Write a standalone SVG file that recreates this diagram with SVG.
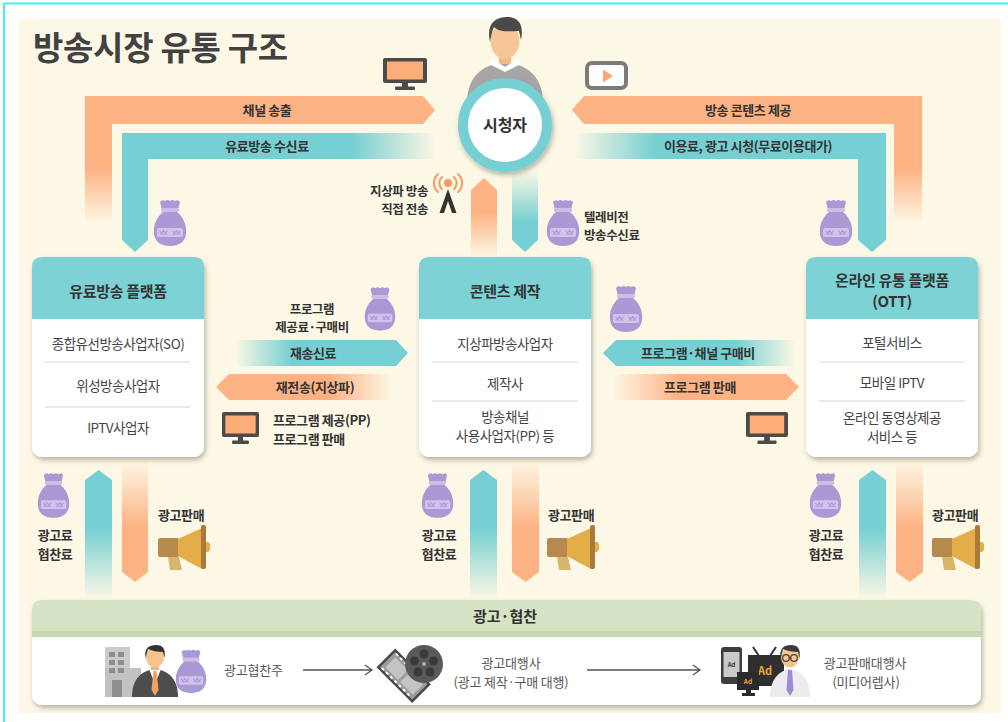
<svg xmlns="http://www.w3.org/2000/svg" xmlns:xlink="http://www.w3.org/1999/xlink" width="1008" height="722" viewBox="0 0 1008 722">
  <style>
    text { font-family: "Noto Sans CJK KR", "Noto Sans CJK JP", "Noto Sans", sans-serif; fill: #333; }
    .lbl { font-size: 13px; font-weight: 700; letter-spacing: -0.4px; }
    .sm { font-size: 12.5px; }
    .mid { text-anchor: middle; }
    .end { text-anchor: end; }
    .head { font-size: 15px; font-weight: 700; text-anchor: middle; letter-spacing: -0.3px; }
    .item { font-size: 13.5px; font-weight: 400; text-anchor: middle; fill: #444; letter-spacing: -0.5px; }
    .row { font-size: 13px; font-weight: 400; fill: #555; letter-spacing: -0.2px; }
    .sep { stroke: #d6d6d6; stroke-width: 1.2; }
    .card { fill: #ffffff; }
    .cardhead { fill: #7cd2d4; }
    .flow { stroke: #555; stroke-width: 1.3; fill: none; }
  </style>
  <defs>
    <filter id="shadow" x="-10%" y="-10%" width="125%" height="130%">
      <feDropShadow dx="1.5" dy="3" stdDeviation="2.5" flood-color="#000" flood-opacity="0.28"/>
    </filter>
    <!-- fading arrow fills -->
    <linearGradient id="gOL" gradientUnits="userSpaceOnUse" x1="0" y1="168" x2="0" y2="224">
      <stop offset="0" stop-color="#fdb283"/><stop offset="1" stop-color="#fdb283" stop-opacity="0"/>
    </linearGradient>
    <linearGradient id="gTL" gradientUnits="userSpaceOnUse" x1="352" y1="0" x2="436" y2="0">
      <stop offset="0" stop-color="#76cfd2"/><stop offset="1" stop-color="#76cfd2" stop-opacity="0"/>
    </linearGradient>
    <linearGradient id="gTR" gradientUnits="userSpaceOnUse" x1="655" y1="0" x2="574" y2="0">
      <stop offset="0" stop-color="#76cfd2"/><stop offset="1" stop-color="#76cfd2" stop-opacity="0"/>
    </linearGradient>
    <linearGradient id="gOC" gradientUnits="userSpaceOnUse" x1="0" y1="212" x2="0" y2="258">
      <stop offset="0" stop-color="#fdb283"/><stop offset="1" stop-color="#fdb283" stop-opacity="0"/>
    </linearGradient>
    <linearGradient id="gTC" gradientUnits="userSpaceOnUse" x1="0" y1="222" x2="0" y2="170">
      <stop offset="0" stop-color="#76cfd2"/><stop offset="1" stop-color="#76cfd2" stop-opacity="0"/>
    </linearGradient>
    <linearGradient id="gTM1" gradientUnits="userSpaceOnUse" x1="292" y1="0" x2="235" y2="0">
      <stop offset="0" stop-color="#76cfd2"/><stop offset="1" stop-color="#76cfd2" stop-opacity="0"/>
    </linearGradient>
    <linearGradient id="gOM1" gradientUnits="userSpaceOnUse" x1="330" y1="0" x2="393" y2="0">
      <stop offset="0" stop-color="#fdb283"/><stop offset="1" stop-color="#fdb283" stop-opacity="0"/>
    </linearGradient>
    <linearGradient id="gTM2" gradientUnits="userSpaceOnUse" x1="735" y1="0" x2="796" y2="0">
      <stop offset="0" stop-color="#76cfd2"/><stop offset="1" stop-color="#76cfd2" stop-opacity="0"/>
    </linearGradient>
    <linearGradient id="gOM2" gradientUnits="userSpaceOnUse" x1="680" y1="0" x2="612" y2="0">
      <stop offset="0" stop-color="#fdb283"/><stop offset="1" stop-color="#fdb283" stop-opacity="0"/>
    </linearGradient>
    <linearGradient id="gTB" gradientUnits="userSpaceOnUse" x1="0" y1="528" x2="0" y2="600">
      <stop offset="0" stop-color="#76cfd2"/><stop offset="1" stop-color="#76cfd2" stop-opacity="0"/>
    </linearGradient>
    <linearGradient id="gOB" gradientUnits="userSpaceOnUse" x1="0" y1="528" x2="0" y2="460">
      <stop offset="0" stop-color="#fdb283"/><stop offset="1" stop-color="#fdb283" stop-opacity="0"/>
    </linearGradient>

    <!-- money bag -->
    <symbol id="bag" viewBox="0 0 34 48">
      <path d="M7,3 Q9,0 12,2 Q14.5,0 17,2 Q19.5,0 22,2 Q25,0 27,3 L25,11 H9 Z" fill="#ab99d6"/>
      <rect x="8" y="9" width="18" height="4" rx="1.5" fill="#cbbfea"/>
      <path d="M10,13 H24 C31,19 34,27 33,35 C32,43 26,47 17,47 C8,47 2,43 1,35 C0,27 3,19 10,13 Z" fill="#ab99d6"/>
      <rect x="4" y="29" width="26" height="9" rx="2" fill="#cfc4ee"/>
      <path d="M6.5,31.5 l2,2.5 l2,-2.5 l2,2.5 l2,-2.5 M19.5,31.5 l2,2.5 l2,-2.5 l2,2.5 l2,-2.5 M6.5,35 h8 M19.5,35 h8" stroke="#ab99d6" stroke-width="1.1" fill="none"/>
    </symbol>
    <!-- television -->
    <symbol id="tv" viewBox="0 0 44 32" preserveAspectRatio="none">
      <rect x="0" y="0" width="44" height="25" rx="2" fill="#4b4b4b"/>
      <rect x="4" y="3.5" width="36" height="18" fill="#fdae78"/>
      <rect x="19" y="25" width="6" height="4" fill="#4b4b4b"/>
      <rect x="12" y="28.5" width="20" height="3.5" rx="1" fill="#4b4b4b"/>
    </symbol>
    <!-- megaphone -->
    <symbol id="horn" viewBox="0 0 52 48">
      <path d="M10,32 H21 L24,45 H12 Z" fill="#d9b46a"/>
      <rect x="0" y="13" width="21" height="19" rx="2" fill="#b8894d"/>
      <path d="M20,14 L44,3 L44,44 L20,31 Z" fill="#e3ae47"/>
      <rect x="43" y="0" width="5" height="44" rx="2" fill="#a97a3c"/>
      <path d="M48,17 h1.5 a3,5 0 0 1 0,10 h-1.5 Z" fill="#e3ae47"/>
    </symbol>
  </defs>

  <!-- page frame and backdrop -->
  <rect x="0" y="0" width="1008" height="722" fill="#ffffff"/>
  <path d="M4,722 V3.5 H1008" fill="none" stroke="#45f0f0" stroke-width="2"/>
  <rect x="19" y="19" width="982" height="694" fill="#fdf8e6"/>

  <text x="33" y="60" style="font-size:33px;font-weight:700;fill:#424242;letter-spacing:-0.3px">방송시장 유통 구조</text>

  <!-- flows between the market players -->
  <g id="connectors">
    <!-- top: platforms to viewer -->
    <path d="M85,96 H423 L435,110 L423,124 H112 V226 H85 Z" fill="url(#gOL)"/>
    <path d="M122,133 H436 V159 H148 V240 L135,252 L122,240 Z" fill="url(#gTL)"/>
    <path d="M922,96 H584 L572,110 L584,124 H894 V226 H922 Z" fill="url(#gOL)"/>
    <path d="M574,133 H886 V240 L872,252 L858,240 V159 H574 Z" fill="url(#gTR)"/>
    <path d="M471,258 V190 L484,178 L497,190 V258 Z" fill="url(#gOC)"/>
    <path d="M512,170 V240 L525,252 L538,240 V170 Z" fill="url(#gTC)"/>

    <text class="lbl mid" x="267" y="115">채널 송출</text>
    <text class="lbl mid" x="267" y="151">유료방송 수신료</text>
    <text class="lbl mid" x="748" y="115">방송 콘텐츠 제공</text>
    <text class="lbl mid" x="748" y="151">이용료, 광고 시청(무료이용대가)</text>

    <!-- terrestrial broadcast -->
    <g fill="none" stroke="#f79a5e" stroke-width="2" stroke-linecap="round">
      <path d="M442,177 a8,8 0 0 0 0,12"/>
      <path d="M438,174 a12,12 0 0 0 0,18"/>
      <path d="M454,177 a8,8 0 0 1 0,12"/>
      <path d="M458,174 a12,12 0 0 1 0,18"/>
    </g>
    <circle cx="448" cy="183" r="4" fill="#f79a5e"/>
    <path d="M448,189 L456.5,213 H452 L448,201 L444,213 H439.5 Z" fill="#333"/>
    <text class="lbl sm end" x="428" y="196">지상파 방송</text>
    <text class="lbl sm end" x="428" y="214">직접 전송</text>

    <use href="#bag" x="153" y="199" width="34" height="48"/>
    <use href="#bag" x="546" y="199" width="34" height="48"/>
    <use href="#bag" x="819" y="199" width="34" height="48"/>
    <text class="lbl sm" x="584" y="222">텔레비전</text>
    <text class="lbl sm" x="584" y="240">방송수신료</text>

    <use href="#tv" x="383" y="58" width="44" height="32"/>
    <rect x="587" y="63" width="39" height="25" rx="5" fill="#fff" stroke="#7b7b7b" stroke-width="4"/>
    <path d="M603,69.5 L613,76 L603,82.5 Z" fill="#fda56c"/>

    <!-- middle: between platforms and content producers -->
    <path d="M235,340 H396 L408,353 L396,366 H235 Z" fill="url(#gTM1)"/>
    <path d="M393,374 H229 L216,387 L229,400 H393 Z" fill="url(#gOM1)"/>
    <text class="lbl mid" x="313" y="358">재송신료</text>
    <text class="lbl mid" x="315" y="392">재전송(지상파)</text>
    <use href="#bag" x="364" y="286" width="32" height="46"/>
    <text class="lbl sm mid" x="312" y="314">프로그램</text>
    <text class="lbl sm mid" x="312" y="332">제공료·구매비</text>
    <use href="#tv" x="222" y="412" width="37" height="32"/>
    <text class="lbl" x="273" y="425">프로그램 제공(PP)</text>
    <text class="lbl" x="273" y="444">프로그램 판매</text>

    <path d="M796,340 H616 L603,353 L616,366 H796 Z" fill="url(#gTM2)"/>
    <path d="M612,374 H786 L799,387 L786,400 H612 Z" fill="url(#gOM2)"/>
    <text class="lbl mid" x="698" y="358">프로그램·채널 구매비</text>
    <text class="lbl mid" x="700" y="392">프로그램 판매</text>
    <use href="#bag" x="609" y="285" width="34" height="48"/>
    <use href="#tv" x="746" y="412" width="42" height="32"/>

    <!-- bottom: advertising revenue and sales -->
    <path d="M85,600 V480 L98.5,470 L112,480 V600 Z" fill="url(#gTB)"/>
    <path d="M122,460 V572 L135,582 L148,572 V460 Z" fill="url(#gOB)"/>
    <path d="M470,600 V480 L483.5,470 L497,480 V600 Z" fill="url(#gTB)"/>
    <path d="M512,460 V572 L525.5,582 L539,572 V460 Z" fill="url(#gOB)"/>
    <path d="M859,600 V480 L872.5,470 L886,480 V600 Z" fill="url(#gTB)"/>
    <path d="M896,460 V572 L909.5,582 L923,572 V460 Z" fill="url(#gOB)"/>

    <use href="#bag" x="37" y="472" width="33" height="47"/>
    <use href="#bag" x="421" y="472" width="33" height="47"/>
    <use href="#bag" x="809" y="472" width="33" height="47"/>
    <text class="lbl mid" x="55" y="540">광고료</text>
    <text class="lbl mid" x="55" y="559">협찬료</text>
    <text class="lbl mid" x="439" y="540">광고료</text>
    <text class="lbl mid" x="439" y="559">협찬료</text>
    <text class="lbl mid" x="826" y="540">광고료</text>
    <text class="lbl mid" x="826" y="559">협찬료</text>

    <text class="lbl" x="158" y="520">광고판매</text>
    <text class="lbl" x="548" y="520">광고판매</text>
    <text class="lbl" x="932" y="520">광고판매</text>
    <use href="#horn" x="158" y="525" width="52" height="48"/>
    <use href="#horn" x="547" y="525" width="52" height="48"/>
    <use href="#horn" x="932" y="525" width="52" height="48"/>
  </g>

  <!-- viewer -->
  <g id="viewer">
    <path d="M467,104 C467,78 480,65 505,62 C530,65 543,78 543,104 Z" fill="#a7a5a6"/>
    <rect x="499" y="52" width="12" height="12" fill="#f0b886"/>
    <path d="M493,59 L505,67 L517,59 L521,64 L505,72 L489,64 Z" fill="#ffffff"/>
    <ellipse cx="505" cy="41" rx="14.5" ry="18" fill="#f6c697"/>
    <path d="M490,42 C486,24 495,17 507,17 C519,17 524,25 521,40 L519,31 C512,31 500,33 494,27 C492,31 491,36 490,42 Z" fill="#4a4a4a"/>
    <g filter="url(#shadow)">
      <circle cx="505" cy="125" r="42" fill="#ffffff" stroke="#76cfd2" stroke-width="10"/>
    </g>
    <text x="505" y="131" style="font-size:16px;font-weight:700;text-anchor:middle">시청자</text>
  </g>

  <!-- paid broadcasting platforms -->
  <g id="paid-platform">
    <rect class="card" x="32" y="257" width="172" height="200" rx="10" filter="url(#shadow)"/>
    <path class="cardhead" d="M32,319 V267 Q32,257 42,257 H194 Q204,257 204,267 V319 Z"/>
    <text class="head" x="118" y="297">유료방송 플랫폼</text>
    <text class="item" x="118" y="349">종합유선방송사업자(SO)</text>
    <line class="sep" x1="45" y1="362" x2="190" y2="362"/>
    <text class="item" x="118" y="391">위성방송사업자</text>
    <line class="sep" x1="45" y1="407" x2="190" y2="407"/>
    <text class="item" x="118" y="433">IPTV사업자</text>
  </g>

  <!-- content production -->
  <g id="content-production">
    <rect class="card" x="419" y="257" width="172" height="200" rx="10" filter="url(#shadow)"/>
    <path class="cardhead" d="M419,319 V267 Q419,257 429,257 H581 Q591,257 591,267 V319 Z"/>
    <text class="head" x="505" y="297">콘텐츠 제작</text>
    <text class="item" x="505" y="349">지상파방송사업자</text>
    <line class="sep" x1="432" y1="362" x2="578" y2="362"/>
    <text class="item" x="505" y="389">제작사</text>
    <line class="sep" x1="432" y1="401" x2="578" y2="401"/>
    <text class="item" x="505" y="422">방송채널</text>
    <text class="item" x="505" y="441">사용사업자(PP) 등</text>
  </g>

  <!-- online distribution platforms -->
  <g id="ott-platform">
    <rect class="card" x="806" y="257" width="172" height="200" rx="10" filter="url(#shadow)"/>
    <path class="cardhead" d="M806,319 V267 Q806,257 816,257 H968 Q978,257 978,267 V319 Z"/>
    <text class="head" x="892" y="286">온라인 유통 플랫폼</text>
    <text class="head" x="892" y="307">(OTT)</text>
    <text class="item" x="892" y="348">포털서비스</text>
    <line class="sep" x1="819" y1="362" x2="965" y2="362"/>
    <text class="item" x="892" y="388">모바일 IPTV</text>
    <line class="sep" x1="819" y1="401" x2="965" y2="401"/>
    <text class="item" x="892" y="423">온라인 동영상제공</text>
    <text class="item" x="892" y="442">서비스 등</text>
  </g>

  <!-- advertising and sponsorship -->
  <g id="ad-sponsorship">
    <rect class="card" x="32" y="600" width="949" height="105" rx="10" filter="url(#shadow)"/>
    <path d="M32,637 V610 Q32,600 42,600 H971 Q981,600 981,610 V637 Z" fill="#d6e3c4"/>
    <rect x="32" y="631" width="949" height="6" fill="#c6d7b1"/>
    <text x="505" y="622" style="font-size:15px;font-weight:700;text-anchor:middle">광고·협찬</text>

    <!-- sponsor -->
    <g id="sponsor">
      <rect x="105" y="647" width="25" height="50" fill="#cbcbcb"/>
      <rect x="105" y="668" width="36" height="29" fill="#c2c2c2"/>
      <g fill="#8e8e8e">
        <rect x="109" y="652" width="6" height="5"/><rect x="118" y="652" width="6" height="5"/>
        <rect x="109" y="660" width="6" height="5"/><rect x="118" y="660" width="6" height="5"/>
        <rect x="109" y="668" width="6" height="5"/><rect x="118" y="668" width="6" height="5"/>
        <rect x="112" y="680" width="10" height="17"/>
      </g>
      <path d="M132,697 C132,680 140,671 155,669 C170,671 178,680 178,697 Z" fill="#4d4d4d"/>
      <path d="M149,669 L155,684 L161,669 Z" fill="#ffffff"/>
      <path d="M153.5,671 H156.5 L158.5,690 L155,696 L151.5,690 Z" fill="#f0a064"/>
      <rect x="151" y="663" width="8" height="7" fill="#eeb47f"/>
      <ellipse cx="155" cy="657" rx="9" ry="10.5" fill="#f6c48f"/>
      <path d="M145.5,658 C144,648 149,645 156,645 C163,645 166,649 164.5,658 L163,652 C158,652 152,651 148,649 Z" fill="#333"/>
      <use href="#bag" x="175" y="648" width="32" height="47"/>
    </g>
    <text class="row" x="224" y="675">광고협찬주</text>
    <path class="flow" d="M303,670 H372 M365,665 L372,670 L365,675"/>

    <!-- agency -->
    <g id="agency">
      <g transform="rotate(45 403 675)">
        <rect x="380" y="663" width="48" height="24" fill="#9c9c9c" stroke="#4a4a4a" stroke-width="2.5"/>
        <rect x="385" y="668" width="18" height="14" fill="#c4c4c4"/>
        <rect x="406" y="668" width="18" height="14" fill="#c4c4c4"/>
        <g fill="#ffffff">
          <rect x="383" y="664" width="3" height="2"/><rect x="389" y="664" width="3" height="2"/><rect x="395" y="664" width="3" height="2"/><rect x="401" y="664" width="3" height="2"/><rect x="407" y="664" width="3" height="2"/><rect x="413" y="664" width="3" height="2"/><rect x="419" y="664" width="3" height="2"/>
          <rect x="383" y="684" width="3" height="2"/><rect x="389" y="684" width="3" height="2"/><rect x="395" y="684" width="3" height="2"/><rect x="401" y="684" width="3" height="2"/><rect x="407" y="684" width="3" height="2"/><rect x="413" y="684" width="3" height="2"/><rect x="419" y="684" width="3" height="2"/>
        </g>
      </g>
      <circle cx="424" cy="664" r="19" fill="#595959"/>
      <g fill="#3a3a3a">
        <circle cx="424" cy="654" r="4.5"/><circle cx="433.5" cy="661" r="4.5"/><circle cx="430" cy="672" r="4.5"/>
        <circle cx="418" cy="672" r="4.5"/><circle cx="414.5" cy="661" r="4.5"/>
      </g>
      <circle cx="424" cy="664" r="2" fill="#aaa"/>
    </g>
    <text class="row" x="511" y="668" text-anchor="middle">광고대행사</text>
    <text class="row" x="511" y="687" text-anchor="middle">(광고 제작·구매 대행)</text>
    <path class="flow" d="M587,670 H700 M693,665 L700,670 L693,675"/>

    <!-- media rep -->
    <g id="media-rep">
      <rect x="721" y="647" width="21" height="37" rx="3" fill="#3d3d3d"/>
      <rect x="723.5" y="652" width="16" height="25" fill="#c9c9c9"/>
      <text x="731.5" y="667" style="font-size:6px;font-weight:700;text-anchor:middle;fill:#333">Ad</text>
      <path d="M759,656 L753,647 M770,656 L776,647" stroke="#2f2f2f" stroke-width="2"/>
      <rect x="748" y="655" width="36" height="31" fill="#2f2f2f"/>
      <text x="765" y="675" style="font-size:11px;font-weight:700;text-anchor:middle;fill:#e5aa2e">Ad</text>
      <rect x="737" y="672" width="22" height="18" fill="#2b2b2b"/>
      <rect x="746" y="690" width="5" height="4" fill="#2b2b2b"/>
      <rect x="742" y="693" width="13" height="3" fill="#2b2b2b"/>
      <text x="748" y="684" style="font-size:6.5px;font-weight:700;text-anchor:middle;fill:#e5aa2e">Ad</text>
      <path d="M770,697 C770,680 778,671 790,669 C802,671 810,680 810,697 Z" fill="#ecebf0"/>
      <path d="M788,670 H792 L793.5,690 L790,696 L786.5,690 Z" fill="#a08ad2"/>
      <ellipse cx="790" cy="657" rx="9" ry="10.5" fill="#f6c48f"/>
      <path d="M780.5,659 C779,648 784,645 791,645 C798,645 801,649 799.5,659 L798,652 C793,652 787,651 783,649 Z" fill="#3a3a3a"/>
      <g fill="none" stroke="#444" stroke-width="1.3">
        <circle cx="786" cy="658" r="3.3"/><circle cx="794" cy="658" r="3.3"/>
        <path d="M789.3,658 H790.7"/>
      </g>
    </g>
    <text class="row" x="865" y="668" text-anchor="middle">광고판매대행사</text>
    <text class="row" x="866" y="687" text-anchor="middle">(미디어렙사)</text>
  </g>
</svg>
